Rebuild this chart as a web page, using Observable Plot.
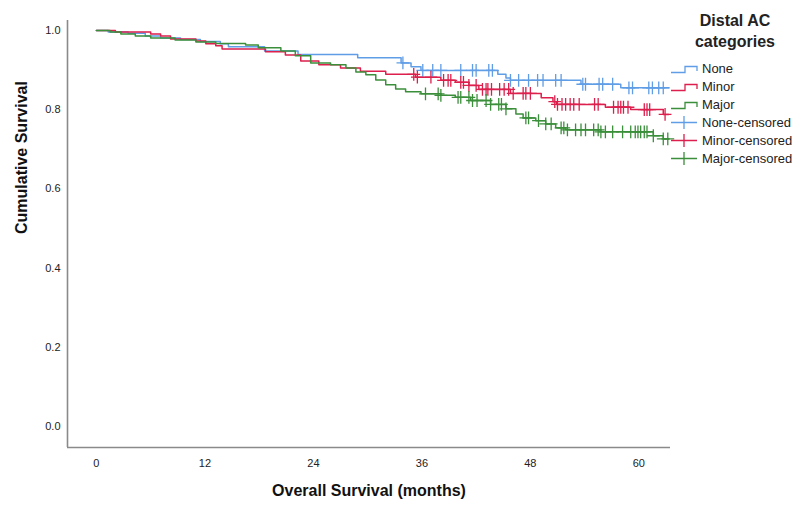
<!DOCTYPE html>
<html>
<head>
<meta charset="utf-8">
<script src="https://cdn.jsdelivr.net/npm/d3@7"></script>
<script src="https://cdn.jsdelivr.net/npm/@observablehq/plot@0.6"></script>
<style>
  html, body { margin: 0; padding: 0; background: #fff; }
  #wrap { position: relative; width: 798px; height: 507px; font-family: "Liberation Sans", Arial, sans-serif; }
  #legend { position: absolute; left: 668px; top: 10px; width: 130px; color: #222; }
  #legend .title { font-weight: bold; font-size: 16px; line-height: 21px; text-align: center; width: 134px; margin-left: 0px; }
  #legend .row { position: absolute; left: 0; height: 18px; display: flex; align-items: center; font-size: 13px; white-space: nowrap; }
  #legend svg { margin-right: 4px; }
</style>
</head>
<body>
<div id="wrap"></div>
<script>
// ---- data (months, cumulative survival) ----
const groups = ["None", "Minor", "Major"];
const colors = ["#5f9de6", "#dc1f4c", "#3b8f3b"];

const noneT = [0, 1.3, 3.5, 5.4, 7.1, 9.3, 11.5, 13.7, 14.6, 18.6, 22.3, 28.9, 33.7, 34.8, 35.9, 44.4, 45.3, 45.8, 53.6, 58.0, 63.3];
const noneS = [1, 0.996, 0.993, 0.986, 0.981, 0.977, 0.972, 0.966, 0.959, 0.948, 0.939, 0.931, 0.918, 0.908, 0.899, 0.889, 0.880, 0.874, 0.864, 0.855, 0.855];
const noneCens = [33.9, 36.1, 37.2, 38.1, 40.3, 41.6, 42.0, 43.4, 43.8, 45.8, 46.7, 47.8, 48.8, 49.4, 50.8, 51.4, 53.8, 54.1, 55.6, 56.0, 57.1, 58.9, 59.3, 61.1, 61.5, 62.2, 62.7];

const minorT = [0, 2.1, 6.0, 7.1, 8.2, 11.0, 12.1, 13.2, 13.9, 18.7, 20.9, 22.6, 24.6, 27.0, 29.2, 32.0, 35.3, 38.1, 39.7, 41.2, 42.3, 45.8, 49.2, 50.5, 50.9, 56.3, 59.1, 62.7, 63.3];
const minorS = [1, 0.996, 0.991, 0.986, 0.978, 0.973, 0.966, 0.961, 0.953, 0.946, 0.938, 0.923, 0.913, 0.905, 0.897, 0.889, 0.882, 0.874, 0.869, 0.861, 0.851, 0.841, 0.830, 0.820, 0.813, 0.806, 0.800, 0.788, 0.788];
const minorCens = [35.1, 35.5, 37.0, 38.4, 38.9, 39.2, 40.3, 40.6, 41.2, 42.0, 42.7, 43.1, 43.3, 43.7, 44.6, 45.1, 45.6, 46.1, 47.2, 47.5, 48.0, 50.7, 51.0, 51.5, 51.9, 52.4, 52.8, 53.4, 55.1, 55.5, 57.2, 57.7, 58.0, 58.3, 58.8, 60.6, 60.9, 61.2, 62.9];

const majorT = [0, 1.5, 2.7, 4.3, 6.0, 8.7, 11.0, 13.2, 16.5, 17.9, 20.4, 22.0, 23.7, 25.9, 27.6, 28.7, 29.8, 30.9, 32.0, 33.1, 34.2, 35.9, 38.1, 39.7, 41.4, 43.6, 45.3, 46.4, 47.2, 48.6, 49.7, 50.8, 51.9, 55.8, 61.6, 62.7, 63.3];
const majorS = [1, 0.996, 0.991, 0.986, 0.981, 0.976, 0.971, 0.967, 0.963, 0.956, 0.948, 0.936, 0.918, 0.913, 0.905, 0.895, 0.888, 0.875, 0.863, 0.852, 0.845, 0.840, 0.836, 0.831, 0.823, 0.813, 0.802, 0.789, 0.779, 0.772, 0.764, 0.754, 0.749, 0.744, 0.734, 0.726, 0.726];
const majorCens = [36.4, 37.8, 38.1, 40.0, 40.3, 41.2, 41.6, 42.1, 43.1, 43.6, 44.5, 44.8, 45.3, 47.5, 47.8, 48.9, 49.7, 50.3, 51.4, 51.7, 52.1, 53.0, 53.6, 54.1, 55.0, 55.5, 55.8, 56.3, 57.1, 58.2, 59.1, 59.6, 59.9, 60.2, 60.6, 60.9, 61.6, 62.7, 63.2];

const xTicks = [0, 12, 24, 36, 48, 60];
const yTicks = [0, 0.2, 0.4, 0.6, 0.8, 1.0];
const xDomain = [-3.2, 63.5];
const yDomain = [-0.053, 1.025];
const xTitle = "Overall Survival (months)";
const yTitle = "Cumulative Survival";
const legendTitle = ["Distal AC", "categories"];

// ---- build tables ----
const series = [[noneT, noneS, noneCens], [minorT, minorS, minorCens], [majorT, majorS, majorCens]];
function sAt(T, S, t) { let s = S[0]; for (let i = 0; i < T.length; i++) if (T[i] <= t) s = S[i]; return s; }
const steps = [], cens = [];
series.forEach(([T, S, C], g) => {
  T.forEach((t, i) => steps.push({group: groups[g], t, s: S[i]}));
  C.forEach(t => cens.push({group: groups[g], t, s: sAt(T, S, t)}));
});

const font = "'Liberation Sans', Arial, sans-serif";
const chart = Plot.plot({
  width: 798, height: 507,
  marginLeft: 67, marginRight: 128, marginTop: 20, marginBottom: 60,
  style: {fontFamily: font, background: "#fff", color: "#222"},
  x: {domain: xDomain},
  y: {domain: yDomain},
  color: {domain: groups, range: colors},
  marks: [
    Plot.axisX({ticks: xTicks, tickSize: 0, tickPadding: 12, fontSize: 11, label: null, fill: "#222"}),
    Plot.axisY({ticks: yTicks, tickSize: 0, tickPadding: 7, fontSize: 11, label: null, tickFormat: d3.format(".1f"), fill: "#222"}),
    Plot.ruleX([xDomain[0]], {stroke: "#8a8a8a", strokeWidth: 1.6}),
    Plot.ruleY([yDomain[0]], {stroke: "#8a8a8a", strokeWidth: 1.6}),
    Plot.line(steps, {x: "t", y: "s", z: "group", stroke: "group", curve: "step-after", strokeWidth: 1.5}),
    Plot.dot(cens, {x: "t", y: "s", stroke: "group", symbol: "plus", r: 4.2, strokeWidth: 1.3}),
    Plot.text([xTitle], {frameAnchor: "bottom", dy: 48, text: d => d, fontSize: 16, fontWeight: "bold", fill: "#111"}),
    Plot.text([yTitle], {frameAnchor: "left", dx: -46, rotate: -90, text: d => d, fontSize: 16, fontWeight: "bold", fill: "#111"})
  ]
});
const wrap = document.getElementById("wrap");
wrap.appendChild(chart);

// ---- legend ----
const lg = document.createElement("div");
lg.id = "legend";
lg.innerHTML = `<div class="title">${legendTitle.join("<br>")}</div>`;
const rows = [];
groups.forEach((g, i) => rows.push({label: g, color: colors[i], kind: "line"}));
groups.forEach((g, i) => rows.push({label: g + "-censored", color: colors[i], kind: "cens"}));
rows.forEach((r, i) => {
  const d = document.createElement("div");
  d.className = "row";
  d.style.top = (49 + i * 18) + "px";
  const icon = r.kind === "line"
    ? `<svg width="30" height="18"><path d="M3,13.5 H17 V7.5 H29 V12" fill="none" stroke="${r.color}" stroke-width="1.3"/></svg>`
    : `<svg width="30" height="18"><path d="M3,9.5 H29 M16,3 V16" fill="none" stroke="${r.color}" stroke-width="1.3"/></svg>`;
  d.innerHTML = icon + `<span>${r.label}</span>`;
  lg.appendChild(d);
});
wrap.appendChild(lg);
</script>
</body>
</html>
